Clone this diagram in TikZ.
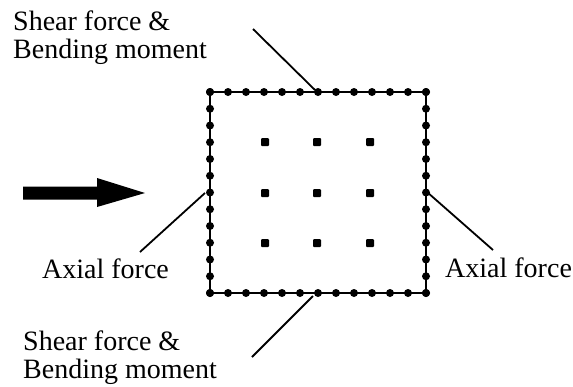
\documentclass[tikz,border=0pt]{standalone}
\usepackage{fontspec}
\setmainfont{Liberation Serif}
\begin{document}
\begin{tikzpicture}[x=1pt,y=-1pt,
    caption/.style={font=\fontsize{28}{27.5}\selectfont,inner sep=0pt,align=left},
    leader/.style={line width=1.8pt}]
    \useasboundingbox (0,0) rectangle (573,386);

    \coordinate (NW) at (210,92);
    \coordinate (NE) at (426,92);
    \coordinate (SE) at (426,293);
    \coordinate (SW) at (210,293);

    % panel with beads along the edges
    \draw[line width=2.6pt] (NW) -- (NE) -- (SE) -- (SW) -- cycle;
    \foreach \i in {0,...,12} {
        \fill ({210+18*\i},92) circle (4pt);
        \fill ({210+18*\i},293) circle (4pt);
        \fill (210,{92+16.75*\i}) circle (4pt);
        \fill (426,{92+16.75*\i}) circle (4pt);
    }

    % inner points
    \foreach \x in {265,317,370}
        \foreach \y in {142,193,243}
            \fill[rounded corners=1pt] (\x-4,\y-4) rectangle ++(8,8);

    % load arrow
    \fill (23,186.5) -- (97,186.5) -- (97,178) -- (145,193) -- (97,207)
        -- (97,199.5) -- (23,199.5) -- cycle;

    \node[caption,anchor=north west] (shtop) at (13,11) {Shear force \&\\Bending moment};
    \node[caption,anchor=north west] (shbot) at (23,331) {Shear force \&\\Bending moment};
    \node[caption,anchor=base west] (axleft) at (42,278) {Axial force};
    \node[caption,anchor=base west] (axright) at (445,277) {Axial force};

    \coordinate (topend) at (253,29);
    \coordinate (topfoot) at (315,90);
    \coordinate (botend) at (252,357);
    \coordinate (botfoot) at (313,296);
    \coordinate (leftend) at (140,252);
    \coordinate (leftfoot) at (205,193);
    \coordinate (rightend) at (493,250);
    \coordinate (rightfoot) at (427,192);

    \draw[leader] (topend) -- (topfoot);
    \draw[leader] (botend) -- (botfoot);
    \draw[leader] (leftend) -- (leftfoot);
    \draw[leader] (rightend) -- (rightfoot);
\end{tikzpicture}
\end{document}
